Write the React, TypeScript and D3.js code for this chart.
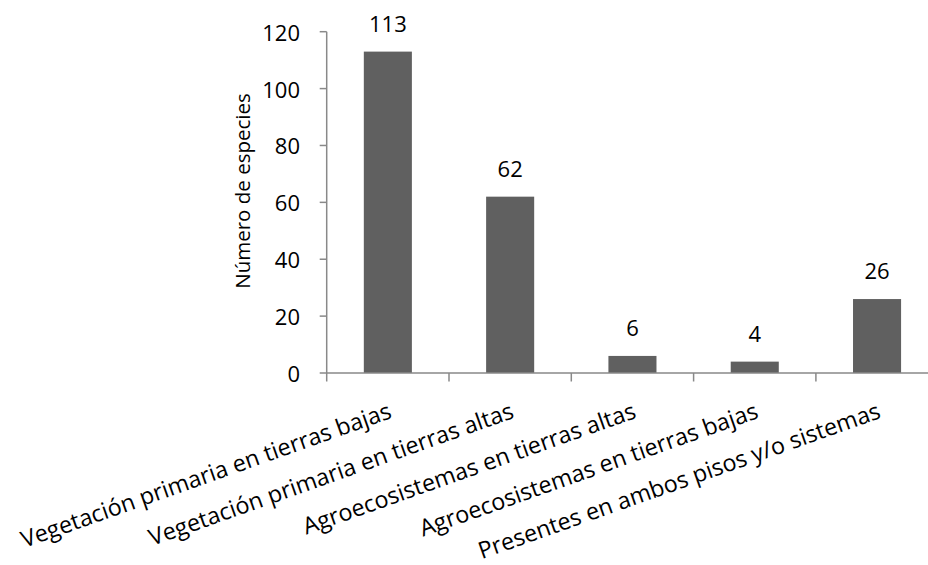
import React from "react";
import * as d3 from "d3";

const categories = [
  "Vegetación primaria en tierras bajas",
  "Vegetación primaria en tierras altas",
  "Agroecosistemas en tierras altas",
  "Agroecosistemas en tierras bajas",
  "Presentes en ambos pisos y/o sistemas",
];
const values = [113, 62, 6, 4, 26];
const yTicks = [0, 20, 40, 60, 80, 100, 120];
const yTitle = "Número de especies";

const W = 928;
const H = 565;
const FONT = "'Open Sans', sans-serif";

export default function App() {
  const x0 = 326.7;
  const step = 122.3;
  const x = d3
    .scaleBand<string>()
    .domain(categories)
    .range([x0, x0 + step * categories.length])
    .paddingInner(0.607)
    .paddingOuter(0.3035);
  const y = d3.scaleLinear().domain([0, 120]).range([373, 31.7]);
  const axisColor = "#898989";
  const boundaries = d3.range(categories.length + 1).map((i) => x0 + i * x.step());

  return (
    <svg
      width={W}
      height={H}
      style={{ position: "absolute", left: 0, top: 0, background: "#fff" }}
      fontFamily={FONT}
    >
      {/* y axis */}
      <line x1={x0} x2={x0} y1={y(120)} y2={y(0)} stroke={axisColor} strokeWidth={1.5} />
      {yTicks.map((t) => (
        <g key={t}>
          <line x1={x0 - 7} x2={x0} y1={y(t)} y2={y(t)} stroke={axisColor} strokeWidth={1.5} />
          <text
            x={300}
            y={y(t)}
            textAnchor="end"
            dominantBaseline="central"
            fontSize={22}
            fill="#000"
          >
            {t}
          </text>
        </g>
      ))}
      {/* bars */}
      {categories.map((c, i) => (
        <rect
          key={c}
          x={x(c)}
          y={y(values[i])}
          width={x.bandwidth()}
          height={y(0) - y(values[i])}
          fill="#606060"
        />
      ))}
      {/* x axis */}
      <line x1={x0} x2={W} y1={y(0)} y2={y(0)} stroke={axisColor} strokeWidth={1.5} />
      {boundaries.map((b, i) => (
        <line key={i} x1={b} x2={b} y1={y(0)} y2={y(0) + 8.5} stroke={axisColor} strokeWidth={1.5} />
      ))}
      {/* value labels */}
      {categories.map((c, i) => (
        <text
          key={c}
          x={(x(c) as number) + x.bandwidth() / 2}
          y={y(values[i]) - 20}
          textAnchor="middle"
          fontSize={22}
          fill="#000"
        >
          {values[i]}
        </text>
      ))}
      {/* category labels */}
      {categories.map((c) => {
        const cx = (x(c) as number) + x.bandwidth() / 2;
        return (
          <text
            key={c}
            transform={`translate(${cx + 2},${y(0) + 36}) rotate(-19.5)`}
            textAnchor="end"
            dominantBaseline="central"
            fontSize={23.3}
            fill="#000"
          >
            {c}
          </text>
        );
      })}
      {/* y title */}
      <text
        transform={`translate(250,191) rotate(-90)`}
        textAnchor="middle"
        fontSize={20.5}
        fill="#000"
      >
        {yTitle}
      </text>
    </svg>
  );
}
